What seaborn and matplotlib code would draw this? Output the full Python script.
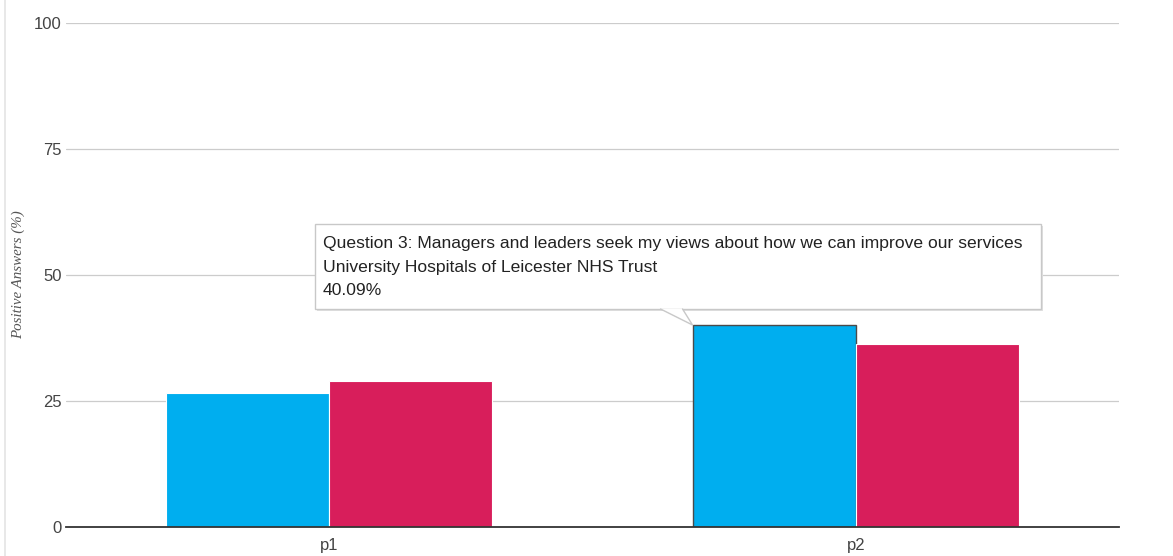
import numpy as np
import pandas as pd
import seaborn as sns
import matplotlib
matplotlib.use("Agg")
import matplotlib.pyplot as plt
from matplotlib.patches import Rectangle, Polygon
from matplotlib.lines import Line2D
from matplotlib.transforms import IdentityTransform

# ---- data ----
periods = ["p1", "p2"]
series = ["University Hospitals of Leicester NHS Trust", "Comparator"]
trust_values = [26.7, 40.09]
comparator_values = [29.0, 36.4]
yticks = [0, 25, 50, 75, 100]
tooltip_lines = [
    "Question 3: Managers and leaders seek my views about how we can improve our services",
    "University Hospitals of Leicester NHS Trust",
    "40.09%",
]
colors = ["#00AEEF", "#D81E5B"]

df = pd.DataFrame({
    "period": periods * 2,
    "series": [series[0]] * 2 + [series[1]] * 2,
    "value": trust_values + comparator_values,
})

sns.set_theme(style="white")
plt.rcParams["font.family"] = ["Liberation Sans", "DejaVu Sans"]

fig = plt.figure(figsize=(11.73, 5.56), dpi=100)
ax = fig.add_axes([66 / 1173, 0.052, (1119 - 66) / 1173, 0.9066])

sns.barplot(data=df, x="period", y="value", hue="series", palette=colors,
            width=0.62, gap=0, legend=False, ax=ax, edgecolor="white",
            linewidth=0.8, saturation=1, zorder=3)

ax.set_ylim(0, 100)
ax.set_xlim(-0.5, 1.5)
ax.set_yticks(yticks)
ax.set_yticklabels([str(t) for t in yticks])
ax.grid(axis="y", color="#cccccc", linewidth=0.9, zorder=0)
ax.grid(axis="x", visible=False)
for s in ["top", "right", "left"]:
    ax.spines[s].set_visible(False)
ax.spines["bottom"].set_color("#333333")
ax.spines["bottom"].set_linewidth(1.3)
ax.spines["bottom"].set_zorder(4)
ax.tick_params(axis="both", length=0, labelsize=12, colors="#444444")
ax.tick_params(axis="y", pad=3)
ax.tick_params(axis="x", pad=8)
ax.set_xlabel("")
ax.set_ylabel("Positive Answers (%)", fontsize=10.8, fontstyle="italic",
              family=["Liberation Serif", "DejaVu Serif"], color="#555555")
ax.yaxis.set_label_coords(-41 / (1119 - 66), 0.5)

# left border line
fig.add_artist(Line2D([0.0045, 0.0045], [0, 1], color="#e4e4e4", lw=1.2,
                      transform=fig.transFigure))

# highlighted bar (hover) and tooltip
trust_patches = [p for p in ax.patches if p.get_height() > 0][:2]
hp = trust_patches[1]
hp.set_edgecolor("#4a4a4a")
hp.set_linewidth(1.0)

fig.canvas.draw()
axx, ayy = ax.transData.transform((hp.get_x(), hp.get_height()))
idt = IdentityTransform()
bl, br = axx - 378, axx + 348
bt, bb = ayy + 101, ayy + 16
# shadow
fig.add_artist(Rectangle((bl + 2, bb - 2), br - bl, bt - bb, transform=idt,
                         facecolor="#e0e0e0", edgecolor="none", zorder=9))
fig.add_artist(Rectangle((bl, bb), br - bl, bt - bb, transform=idt,
                         facecolor="white", edgecolor="#c8c8c8", lw=1.0, zorder=10))
notch = [(axx - 32, bb), (axx, ayy), (axx - 10, bb)]
fig.add_artist(Polygon(notch, closed=True, transform=idt, facecolor="white",
                       edgecolor="none", zorder=11))
fig.add_artist(Line2D([notch[0][0], notch[1][0], notch[2][0]],
                      [notch[0][1], notch[1][1], notch[2][1]],
                      transform=idt, color="#c8c8c8", lw=1.0, zorder=12))
fig.text(bl + 8, bt - 12, "\n".join(tooltip_lines), transform=idt,
         ha="left", va="top", fontsize=12.6, color="#222222",
         linespacing=1.72, zorder=13)

fig.savefig("out.png", dpi=100, facecolor="white")
